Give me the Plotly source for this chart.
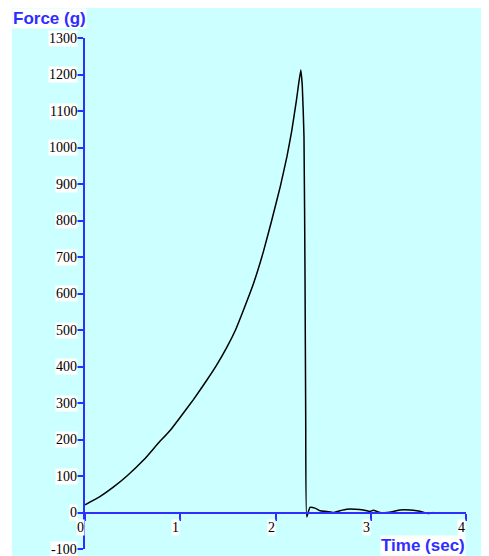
import plotly.graph_objects as go

# ---- data ----
time_sec = [0.00, 0.16, 0.30, 0.44, 0.62, 0.76, 0.90, 1.00, 1.14, 1.28, 1.38, 1.49,
            1.58, 1.66, 1.77, 1.87, 1.96, 2.05, 2.12, 2.17, 2.22, 2.265, 2.281, 2.299,
            2.310, 2.317, 2.328, 2.362, 2.415, 2.467, 2.538, 2.607, 2.677, 2.748, 2.835,
            2.922, 2.992, 3.027, 3.097, 3.167, 3.237, 3.307, 3.412, 3.482, 3.552, 3.604, 3.657]
force_g = [21, 44, 70, 100, 145, 187, 227, 261, 310, 363, 403, 453,
           500, 552, 628, 712, 800, 893, 975, 1045, 1130, 1212, 1170, 1030,
           640, 274, -12, 14, 12, 5, 3, 0, 5, 9, 9,
           7, 3, 6, 0, 0, 3, 7, 7, 5, 1, -3, 0]

y_ticks = [1300, 1200, 1100, 1000, 900, 800, 700, 600, 500, 400, 300, 200, 100, 0, -100]
x_ticks = [0, 1, 2, 3, 4]
y_title = "Force (g)"
x_title = "Time (sec)"

OFF = 8  # page body margin
W, H = 489 - OFF, 556 - OFF
ML, MR, MT, MB = 85 - OFF, 23, 38 - OFF, 7
pw, ph = W - ML - MR, H - MT - MB
ymin, ymax = -100, 1300
blue = "#2E2EFF"
cyan = "#CCFFFF"


def px2paper_x(px):
    return (px - OFF - ML) / pw


def px2paper_y(py):
    return (H - MB - (py - OFF)) / ph


fig = go.Figure()
fig.add_trace(go.Scatter(x=time_sec, y=force_g, mode="lines",
                         line=dict(color="black", width=1.5, shape="spline", smoothing=0.4),
                         hoverinfo="skip", showlegend=False))

annotations = []
serif = "Liberation Serif, Times New Roman, serif"
for v in y_ticks:
    annotations.append(dict(xref="paper", x=0, yref="y", y=v, text=str(v),
                            xanchor="right", yanchor="middle", xshift=-7,
                            showarrow=False, bgcolor="white", borderpad=0,
                            font=dict(family=serif, size=14, color="black")))
for v in x_ticks:
    annotations.append(dict(xref="x", x=v, yref="y", y=0, text=str(v),
                            xanchor="right", yanchor="top", yshift=-6,
                            showarrow=False, bgcolor="white", borderpad=0,
                            font=dict(family=serif, size=14, color="black")))

sans = "Liberation Sans, Arial, sans-serif"
annotations.append(dict(xref="paper", x=px2paper_x(12), yref="paper", y=px2paper_y(8),
                        text="<b>%s</b>" % y_title, xanchor="left", yanchor="top",
                        showarrow=False, bgcolor="white", borderpad=0,
                        font=dict(family=sans, size=17, color=blue)))
annotations.append(dict(xref="paper", x=1.0, yref="paper", y=px2paper_y(556),
                        text="<b>%s</b>" % x_title, xanchor="right", yanchor="bottom",
                        showarrow=False, bgcolor="white", borderpad=0,
                        font=dict(family=sans, size=17, color=blue)))

fig.update_layout(
    width=W, height=H,
    margin=dict(l=ML, r=MR, t=MT, b=MB, pad=0),
    paper_bgcolor="white",
    plot_bgcolor=cyan,
    showlegend=False,
    annotations=annotations,
    shapes=[dict(type="rect", xref="paper", yref="paper", layer="below",
                 x0=px2paper_x(12), x1=px2paper_x(487),
                 y0=px2paper_y(556), y1=px2paper_y(8),
                 fillcolor=cyan, line=dict(width=0))],
    xaxis=dict(range=[0, 4], tickvals=x_ticks, showticklabels=False,
               ticks="outside", ticklen=7, tickwidth=2, tickcolor=blue,
               showline=True, linecolor=blue, linewidth=2,
               showgrid=False, zeroline=False,
               anchor="free", position=(0 - ymin) / (ymax - ymin)),
    yaxis=dict(range=[ymin, ymax], tickvals=y_ticks, showticklabels=False,
               ticks="outside", ticklen=7, tickwidth=2, tickcolor=blue,
               showline=True, linecolor=blue, linewidth=2,
               showgrid=False, zeroline=False),
)

fig.write_html("out.html")
